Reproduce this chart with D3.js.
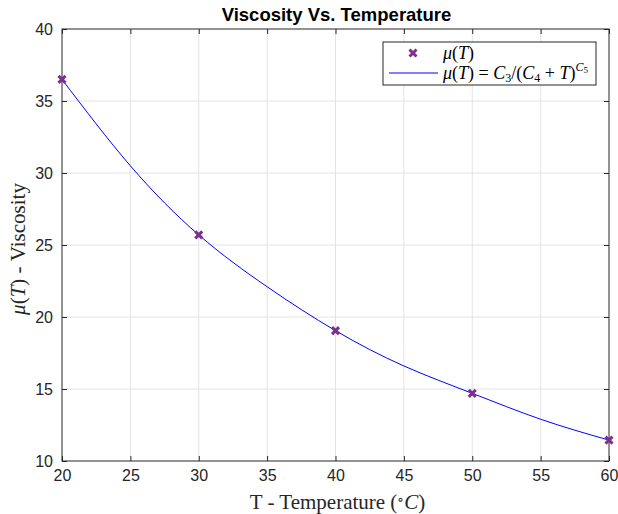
<!DOCTYPE html>
<html>
<head>
<meta charset="utf-8">
<script src="https://cdn.jsdelivr.net/npm/d3@7"></script>
<style>
  body { margin: 0; background: #fff; }
  text { font-family: "Liberation Sans", Arial, sans-serif; }
  .serif { font-family: "Liberation Serif", "DejaVu Serif", serif; }
</style>
</head>
<body>
<svg id="chart"></svg>
<script>
// measured data points (T, mu)
var temps = [20, 30, 40, 50, 60];
var visc = [36.5, 25.7, 19.05, 14.7, 11.45];

// fitted curve
var fitT = [20, 25, 30, 35, 40, 45, 50, 55, 60];
var fitMu = [36.5, 30.5, 25.7, 22.1, 19.05, 16.6, 14.7, 12.9, 11.45];

var xTicks = [20, 25, 30, 35, 40, 45, 50, 55, 60];
var yTicks = [10, 15, 20, 25, 30, 35, 40];

// set the dimensions and margins of the graph
var margin = {top: 29, right: 9, bottom: 53, left: 62},
  width = 618 - margin.left - margin.right,
  height = 514 - margin.top - margin.bottom;

var axisColor = "#262626",
  gridColor = "#e3e3e3",
  markColor = "#7E2F8E";

var svg = d3.select("#chart")
  .attr("width", 618)
  .attr("height", 514)
  .append("g")
  .attr("transform", "translate(" + margin.left + "," + margin.top + ")");

var x = d3.scaleLinear().domain([20, 60]).range([0, width]);
var y = d3.scaleLinear().domain([10, 40]).range([height, 0]);

// grid
svg.append("g").selectAll("line")
  .data(xTicks.slice(1, -1))
  .enter().append("line")
  .attr("x1", d => x(d)).attr("x2", d => x(d))
  .attr("y1", 0).attr("y2", height)
  .attr("stroke", gridColor);
svg.append("g").selectAll("line")
  .data(yTicks.slice(1, -1))
  .enter().append("line")
  .attr("y1", d => y(d)).attr("y2", d => y(d))
  .attr("x1", 0).attr("x2", width)
  .attr("stroke", gridColor);

// axes (ticks inside, MATLAB box)
function styleAxis(g) {
  g.select(".domain").remove();
  g.selectAll("line").attr("stroke", axisColor);
  g.selectAll("text").attr("fill", axisColor).style("font-size", "16px");
}
svg.append("g")
  .attr("transform", "translate(0," + height + ")")
  .call(d3.axisBottom(x).tickValues(xTicks).tickSizeInner(-5).tickSizeOuter(0).tickPadding(9))
  .call(styleAxis);
svg.append("g")
  .call(d3.axisTop(x).tickValues(xTicks).tickSizeInner(-5).tickSizeOuter(0).tickFormat(""))
  .call(styleAxis);
svg.append("g")
  .call(d3.axisLeft(y).tickValues(yTicks).tickSizeInner(-5).tickSizeOuter(0).tickPadding(9))
  .call(styleAxis);
svg.append("g")
  .attr("transform", "translate(" + width + ",0)")
  .call(d3.axisRight(y).tickValues(yTicks).tickSizeInner(-5).tickSizeOuter(0).tickFormat(""))
  .call(styleAxis);

svg.append("rect")
  .attr("width", width).attr("height", height)
  .attr("fill", "none").attr("stroke", axisColor).attr("stroke-width", 1);

// fitted curve
var line = d3.line()
  .x((d, i) => x(fitT[i]))
  .y(d => y(d))
  .curve(d3.curveNatural);
svg.append("path")
  .datum(fitMu)
  .attr("d", line)
  .attr("fill", "none")
  .attr("stroke", "#0000ff")
  .attr("stroke-width", 1);

// markers
function cross(sel, s) {
  sel.append("path")
    .attr("d", "M" + (-s) + "," + (-s) + "L" + s + "," + s + "M" + (-s) + "," + s + "L" + s + "," + (-s))
    .attr("stroke", markColor)
    .attr("stroke-width", 3);
}
svg.append("g").selectAll("g")
  .data(visc)
  .enter().append("g")
  .attr("transform", (d, i) => "translate(" + x(temps[i]) + "," + y(d) + ")")
  .each(function() { cross(d3.select(this), 3.5); });

// title
svg.append("text")
  .attr("x", width / 2 + 1).attr("y", -8)
  .attr("text-anchor", "middle")
  .style("font-size", "18.5px").style("font-weight", "bold")
  .attr("fill", "#000")
  .text("Viscosity Vs. Temperature");

// x label
var xl = svg.append("text")
  .attr("class", "serif")
  .attr("x", width / 2 + 2).attr("y", height + 48)
  .attr("text-anchor", "middle")
  .style("font-size", "21px").attr("fill", axisColor);
xl.append("tspan").text("T - Temperature (");
xl.append("tspan").attr("baseline-shift", "35%").style("font-size", "14px").text("∘");
xl.append("tspan").style("font-style", "italic").text("C");
xl.append("tspan").text(")");

// y label
var yl = svg.append("text")
  .attr("class", "serif")
  .attr("transform", "translate(-37," + (height / 2 + 4) + ") rotate(-90)")
  .attr("text-anchor", "middle")
  .style("font-size", "21px").attr("fill", axisColor);
yl.append("tspan").style("font-style", "italic").text("μ");
yl.append("tspan").text("(");
yl.append("tspan").style("font-style", "italic").text("T");
yl.append("tspan").text(") - Viscosity");

// legend
var lg = svg.append("g").attr("transform", "translate(" + (383 - margin.left) + "," + (42 - margin.top) + ")");
lg.append("rect").attr("width", 213).attr("height", 43)
  .attr("fill", "#fff").attr("stroke", axisColor).attr("stroke-width", 1);
cross(lg.append("g").attr("transform", "translate(30,11)"), 3.5);
lg.append("line").attr("x1", 6).attr("x2", 55).attr("y1", 31).attr("y2", 31)
  .attr("stroke", "#0000ff");
var t1 = lg.append("text").attr("class", "serif").attr("x", 60).attr("y", 17)
  .style("font-size", "18px").attr("fill", "#000");
t1.append("tspan").style("font-style", "italic").text("μ");
t1.append("tspan").text("(");
t1.append("tspan").style("font-style", "italic").text("T");
t1.append("tspan").text(")");
var t2 = lg.append("text").attr("class", "serif").attr("x", 60).attr("y", 37)
  .style("font-size", "18px").attr("fill", "#000");
t2.append("tspan").style("font-style", "italic").text("μ");
t2.append("tspan").text("(");
t2.append("tspan").style("font-style", "italic").text("T");
t2.append("tspan").text(") = ");
t2.append("tspan").style("font-style", "italic").text("C");
t2.append("tspan").attr("dy", 3).style("font-size", "12px").text("3");
t2.append("tspan").attr("dy", -3).text("/(");
t2.append("tspan").style("font-style", "italic").text("C");
t2.append("tspan").attr("dy", 3).style("font-size", "12px").text("4");
t2.append("tspan").attr("dy", -3).text(" + ");
t2.append("tspan").style("font-style", "italic").text("T");
t2.append("tspan").text(")");
t2.append("tspan").attr("dy", -8).style("font-size", "12px").style("font-style", "italic").text("C");
t2.append("tspan").attr("dy", 2).style("font-size", "9px").text("5");
</script>
</body>
</html>
